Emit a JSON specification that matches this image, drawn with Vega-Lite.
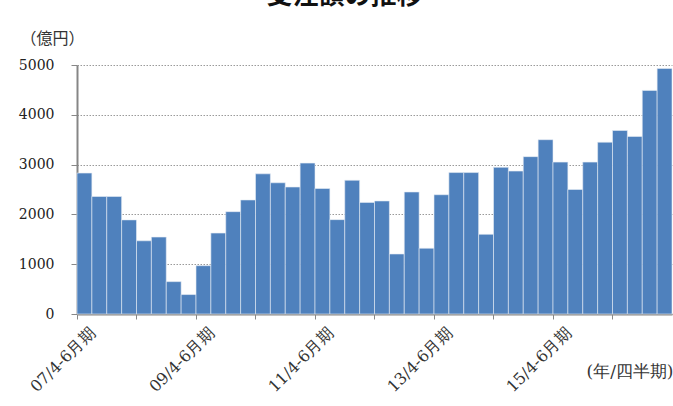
{
  "$schema": "https://vega.github.io/schema/vega-lite/v6.json",
  "autosize": "none",
  "padding": {"left": 77, "top": 65, "right": 1, "bottom": 92},
  "width": 595,
  "height": 249,
  "background": "#ffffff",
  "title": {
    "text": "受注額の推移",
    "font": "Noto Sans CJK JP",
    "fontSize": 26,
    "fontWeight": "bold",
    "color": "#111111",
    "anchor": "middle",
    "dx": -30,
    "offset": 21
  },
  "data": {
    "values": [
      {"q": "07/4-6月期", "v": 2830},
      {"q": "07/7-9月期", "v": 2360},
      {"q": "07/10-12月期", "v": 2360},
      {"q": "08/1-3月期", "v": 1890},
      {"q": "08/4-6月期", "v": 1470},
      {"q": "08/7-9月期", "v": 1545},
      {"q": "08/10-12月期", "v": 650},
      {"q": "09/1-3月期", "v": 390},
      {"q": "09/4-6月期", "v": 970},
      {"q": "09/7-9月期", "v": 1625},
      {"q": "09/10-12月期", "v": 2055},
      {"q": "10/1-3月期", "v": 2290},
      {"q": "10/4-6月期", "v": 2815},
      {"q": "10/7-9月期", "v": 2635},
      {"q": "10/10-12月期", "v": 2550},
      {"q": "11/1-3月期", "v": 3030},
      {"q": "11/4-6月期", "v": 2520},
      {"q": "11/7-9月期", "v": 1895},
      {"q": "11/10-12月期", "v": 2685},
      {"q": "12/1-3月期", "v": 2240},
      {"q": "12/4-6月期", "v": 2270},
      {"q": "12/7-9月期", "v": 1205},
      {"q": "12/10-12月期", "v": 2450},
      {"q": "13/1-3月期", "v": 1320},
      {"q": "13/4-6月期", "v": 2395},
      {"q": "13/7-9月期", "v": 2840},
      {"q": "13/10-12月期", "v": 2840},
      {"q": "14/1-3月期", "v": 1600},
      {"q": "14/4-6月期", "v": 2945},
      {"q": "14/7-9月期", "v": 2870},
      {"q": "14/10-12月期", "v": 3160},
      {"q": "15/1-3月期", "v": 3500},
      {"q": "15/4-6月期", "v": 3050},
      {"q": "15/7-9月期", "v": 2500},
      {"q": "15/10-12月期", "v": 3050},
      {"q": "16/1-3月期", "v": 3450},
      {"q": "16/4-6月期", "v": 3685},
      {"q": "16/7-9月期", "v": 3565},
      {"q": "16/10-12月期", "v": 4490},
      {"q": "17/1-3月期", "v": 4930}
    ]
  },
  "mark": {"type": "bar", "color": "#4F81BD", "stroke": "#E6ECF5", "strokeWidth": 0.6},
  "encoding": {
    "x": {
      "field": "q",
      "type": "ordinal",
      "sort": null,
      "scale": {"paddingInner": 0, "paddingOuter": 0},
      "axis": {
        "title": "(年/四半期)",
        "titleFont": "DejaVu Serif",
        "titleFontSize": 17,
        "titleFontWeight": "normal",
        "titleColor": "#333333",
        "titleAnchor": "end",
        "titleAlign": "right",
        "titleX": 596,
        "titleY": 57,
        "titleBaseline": "middle",
        "values": ["07/4-6月期", "08/4-6月期", "09/4-6月期", "10/4-6月期", "11/4-6月期", "12/4-6月期", "13/4-6月期", "14/4-6月期", "15/4-6月期", "16/4-6月期"],
        "labelExpr": "indexof(['07/4-6月期','09/4-6月期','11/4-6月期','13/4-6月期','15/4-6月期'], datum.value) >= 0 ? datum.value : ''",
        "bandPosition": 0,
        "labelAngle": -45,
        "labelAlign": "right",
        "labelBaseline": "middle",
        "labelPadding": 11,
        "labelOffset": 8,
        "labelFont": "DejaVu Serif",
        "labelFontSize": 16,
        "labelColor": "#333333",
        "labelOverlap": false,
        "labelBound": false,
        "tickSize": 5,
        "tickColor": "#888888",
        "domainColor": "#868686",
        "domainWidth": 2,
        "grid": false
      }
    },
    "y": {
      "field": "v",
      "type": "quantitative",
      "scale": {"domain": [0, 5000], "nice": false},
      "axis": {
        "title": "（億円）",
        "titleFont": "Noto Sans CJK JP",
        "titleFontSize": 16,
        "titleFontWeight": "normal",
        "titleColor": "#333333",
        "titleAngle": 0,
        "titleAlign": "left",
        "titleBaseline": "middle",
        "titleX": -57,
        "titleY": -27,
        "values": [0, 1000, 2000, 3000, 4000, 5000],
        "format": "d",
        "labelFont": "DejaVu Serif",
        "labelFontSize": 14,
        "labelColor": "#222222",
        "labelPadding": 17,
        "tickSize": 6,
        "tickColor": "#888888",
        "domainColor": "#868686",
        "domainWidth": 2,
        "grid": true,
        "gridColor": "#9a9a9a",
        "gridDash": [1.5, 1.5],
        "gridWidth": 1
      }
    }
  },
  "config": {
    "view": {"stroke": null}
  }
}
